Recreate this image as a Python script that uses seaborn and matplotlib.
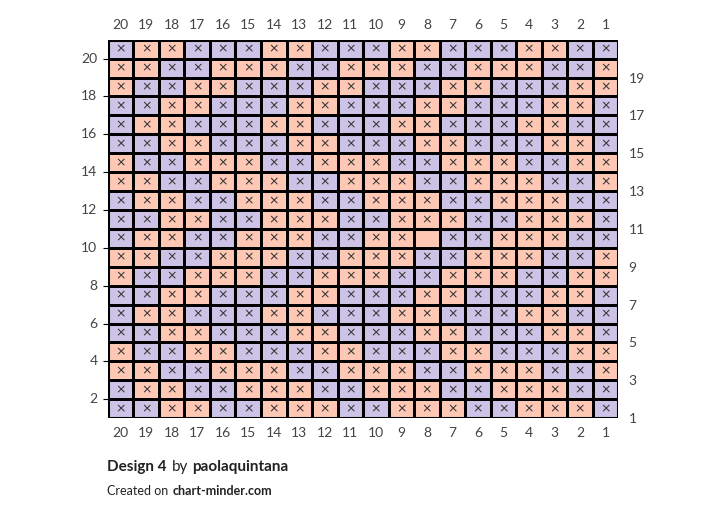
import numpy as np
import matplotlib
matplotlib.use("Agg")
import matplotlib.pyplot as plt
import seaborn as sns
from matplotlib.colors import ListedColormap

# rows 20 -> 1 (top to bottom), columns 20 -> 1 (left to right); 1 = purple, 0 = peach
rows = [
    "POOPPPOOPPPOOPPPOOPP",
    "OOPPOOOPPOOOPPOOOPPO",
    "OPPOOPPPOOPPPOOPPPOO",
    "PPOOPPPOOPPPOOPPPOOP",
    "POOPPPOOPPPOOPPPOOPP",
    "PPOOPPPOOPPPOOPPPOOP",
    "OPPOOOPPOOOPPOOOPPOO",
    "OOPPOOOPPOOOPPOOOPPO",
    "POOPPOOOPPOOOPPOOOPP",
    "PPOOPPOOOPPOOOPPOOOP",
    "POOPPOOOPPOOOPPOOOPP",
    "OOPPOOOPPOOOPPOOOPPO",
    "OPPOOOPPOOOPPOOOPPOO",
    "PPOOPPPOOPPPOOPPPOOP",
    "POOPPPOOPPPOOPPPOOPP",
    "PPOOPPPOOPPPOOPPPOOP",
    "OPPOOPPPOOPPPOOPPPOO",
    "OOPPOOOPPOOOPPOOOPPO",
    "POOPPOOOPPOOOPPOOOPP",
    "PPOOPPOOOPPOOOPPOOOP",
]
no_stitch = [(10, 8)]  # (row, column) left blank
col_labels = list(range(20, 0, -1))
row_labels = list(range(20, 0, -1))

grid = np.array([[1 if c == "P" else 0 for c in r] for r in rows])
annot = np.full(grid.shape, "×", dtype=object)
for r, c in no_stitch:
    annot[20 - r, 20 - c] = ""

plt.rcParams["font.family"] = ["Lato", "DejaVu Sans"]
fig = plt.figure(figsize=(7.24, 5.22), dpi=100)
ax = fig.add_axes([0.149, 0.199, 0.705, 0.725])
sns.heatmap(grid, ax=ax, cmap=ListedColormap(["#fec8b4", "#cdc3e6"]), cbar=False,
            linewidths=1, linecolor="black", annot=annot, fmt="",
            annot_kws={"color": "#333333", "fontsize": 9, "family": "DejaVu Sans"})
for k in range(0, 21, 5):
    ax.axhline(k, color="black", lw=2.2)
    ax.axvline(k, color="black", lw=2.2)

ax.set_xticks(np.arange(20) + 0.5)
ax.set_xticklabels(col_labels, rotation=0)
ax.tick_params(axis="x", top=False, bottom=False, labeltop=True, labelbottom=True,
               labelsize=10, labelcolor="#444444", pad=3)
even = [i for i, r in enumerate(row_labels) if r % 2 == 0]
odd = [i for i, r in enumerate(row_labels) if r % 2 == 1]
ax.set_yticks(np.array(even) + 1.0)
ax.set_yticklabels([row_labels[i] for i in even], rotation=0)
ax.tick_params(axis="y", left=False, labelsize=10, labelcolor="#444444", pad=4)
ax2 = ax.twinx()
ax2.set_ylim(ax.get_ylim())
ax2.set_yticks(np.array(odd) + 1.0)
ax2.set_yticklabels([row_labels[i] for i in odd])
ax2.tick_params(axis="y", right=False, labelsize=10, labelcolor="#444444", pad=4)
for s in ax2.spines.values():
    s.set_visible(False)

fig.text(0.148, 0.098, "Design 4", fontsize=11, fontweight="bold", color="#222222")
fig.text(0.237, 0.098, "by", fontsize=11, color="#222222")
fig.text(0.266, 0.098, "paolaquintana", fontsize=11, fontweight="bold", color="#222222")
fig.text(0.148, 0.052, "Created on", fontsize=9, color="#222222")
fig.text(0.239, 0.052, "chart-minder.com", fontsize=9, fontweight="bold", color="#222222")
fig.savefig("out.png", dpi=100)
